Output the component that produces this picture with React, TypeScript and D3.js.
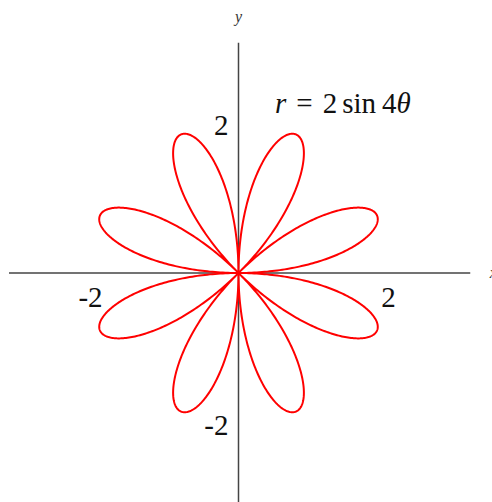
import React from "react";
import { scaleLinear, line, range } from "d3";

// rose curve r = a sin(kθ)
const amplitude = 2;
const petalFactor = 4;
const xTicks = [-2, 2];
const yTicks = [2, -2];
const equationParts = ["r", "=", "2", "sin", "4", "θ"];

const width = 492;
const height = 502;

export default function App() {
  const xScale = scaleLinear().domain([-3, 3]).range([13.5, 463.5]);
  const yScale = scaleLinear().domain([-3, 3]).range([498, 48]);

  const thetas = range(0, 2 * Math.PI + 0.001, Math.PI / 720);
  const points = thetas.map((t) => {
    const r = amplitude * Math.sin(petalFactor * t);
    return [r * Math.cos(t), r * Math.sin(t)] as [number, number];
  });
  const path = line<[number, number]>()
    .x((d) => xScale(d[0]))
    .y((d) => yScale(d[1]))(points);

  const font = "'Liberation Serif', 'DejaVu Serif', serif";
  // spacing before each part, roughly like TeX math spacing
  const gaps = [0, 10, 10, 5, 6, 0];
  const italic = [true, false, false, false, false, true];

  return (
    <svg
      width={width}
      height={height}
      style={{ position: "absolute", left: 0, top: 0, background: "#fff" }}
    >
      <line
        x1={xScale(-3.06)}
        x2={xScale(3.09)}
        y1={yScale(0)}
        y2={yScale(0)}
        stroke="#444"
        strokeWidth={1.5}
      />
      <line
        x1={xScale(0)}
        x2={xScale(0)}
        y1={yScale(3.07)}
        y2={height}
        stroke="#444"
        strokeWidth={1.5}
      />
      <text
        x={xScale(3.35)}
        y={yScale(0) + 5}
        fontFamily={font}
        fontStyle="italic"
        fontSize={16}
        fill="#333"
      >
        x
      </text>
      <text
        x={xScale(0)}
        y={22}
        textAnchor="middle"
        fontFamily={font}
        fontStyle="italic"
        fontSize={16}
        fill="#333"
      >
        y
      </text>
      {xTicks.map((t) => (
        <text
          key={"x" + t}
          x={xScale(t) + (t < 0 ? 2 : 0)}
          y={yScale(0) + 34}
          textAnchor="middle"
          fontFamily={font}
          fontSize={29}
          fill="#111"
        >
          {t}
        </text>
      ))}
      {yTicks.map((t) => (
        <text
          key={"y" + t}
          x={xScale(0) - 10}
          y={yScale(t) + 12}
          textAnchor="end"
          fontFamily={font}
          fontSize={29}
          fill="#111"
        >
          {t}
        </text>
      ))}
      <path d={path ?? ""} fill="none" stroke="#ff0000" strokeWidth={2} />
      <text x={275} y={113} fontFamily={font} fontSize={29} fill="#111">
        {equationParts.map((p, i) => (
          <tspan key={i} dx={gaps[i]} fontStyle={italic[i] ? "italic" : "normal"}>
            {p}
          </tspan>
        ))}
      </text>
    </svg>
  );
}
